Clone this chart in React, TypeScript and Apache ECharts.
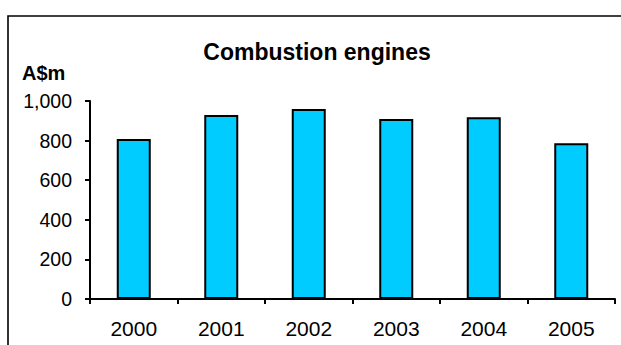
import React, { useEffect, useRef } from "react";
import * as echarts from "echarts";

const categories = ["2000", "2001", "2002", "2003", "2004", "2005"];
const values = [808, 929, 960, 909, 918, 786];
const yTicks = [0, 200, 400, 600, 800, 1000];
const titleText = "Combustion engines";
const unitText = "A$m";

export default function App() {
  const ref = useRef<HTMLDivElement>(null);
  useEffect(() => {
    if (!ref.current) return;
    const chart = echarts.init(ref.current, undefined, { renderer: "svg" });
    const font = "Liberation Sans, Arial, sans-serif";
    chart.setOption({
      animation: false,
      backgroundColor: "#ffffff",
      grid: { left: 90, right: 6, top: 101, bottom: 46, containLabel: false },
      graphic: [
        {
          type: "polyline",
          shape: { points: [[8, 345], [8, 16], [621, 16]] },
          style: { stroke: "#000", lineWidth: 1.6, fill: "none" },
        },
        {
          type: "text",
          x: 317,
          y: 52,
          style: {
            text: titleText,
            font: `bold 23px ${font}`,
            fill: "#000",
            align: "center",
            verticalAlign: "middle",
          },
        },
        {
          type: "text",
          x: 22,
          y: 73,
          style: {
            text: unitText,
            font: `bold 20px ${font}`,
            fill: "#000",
            align: "left",
            verticalAlign: "middle",
          },
        },
      ],
      xAxis: {
        type: "category",
        data: categories,
        axisLine: { lineStyle: { color: "#000", width: 2 } },
        axisTick: { show: true, length: 5, lineStyle: { color: "#000", width: 2 } },
        axisLabel: { color: "#000", fontSize: 21, fontFamily: font, margin: 19 },
      },
      yAxis: {
        type: "value",
        min: yTicks[0],
        max: yTicks[yTicks.length - 1],
        interval: 200,
        splitLine: { show: false },
        axisLine: { show: true, lineStyle: { color: "#000", width: 2 } },
        axisTick: { show: true, length: 5, lineStyle: { color: "#000", width: 2 } },
        axisLabel: {
          color: "#000",
          fontSize: 19.5,
          fontFamily: font,
          margin: 18,
          formatter: (v: number) => v.toLocaleString("en-US"),
        },
      },
      series: [
        {
          type: "bar",
          data: values,
          barWidth: 34,
          itemStyle: { color: "#00CCFF", borderColor: "#000", borderWidth: 2 },
        },
      ],
    });
    return () => chart.dispose();
  }, []);
  return (
    <div
      ref={ref}
      style={{ position: "fixed", left: 0, top: 0, width: 621, height: 345 }}
    />
  );
}
